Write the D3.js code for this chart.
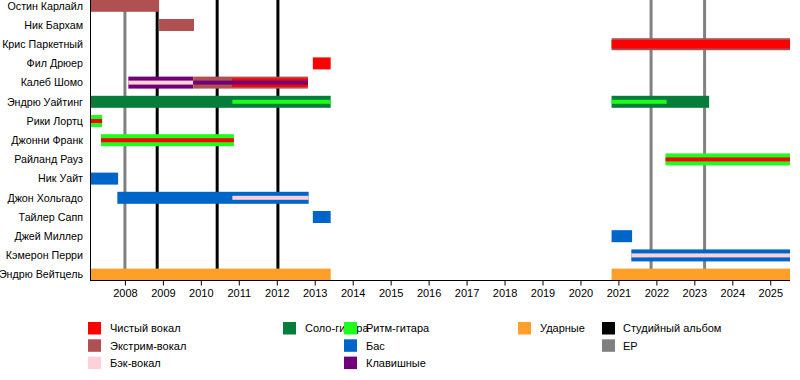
<!DOCTYPE html>
<html>
<head>
<meta charset="utf-8">
<script src="https://cdn.jsdelivr.net/npm/d3@7"></script>
<style>
  body { margin: 0; background: #fff; }
  svg { display: block; font-family: "Liberation Sans", Arial, sans-serif; }
  .axis path, .axis line { stroke: #000; }
</style>
</head>
<body>
<div id="chart"></div>
<script>
// members, top to bottom
var members = ["Остин Карлайл", "Ник Бархам", "Крис Паркетный", "Фил Дрюер", "Калеб Шомо",
    "Эндрю Уайтинг", "Рики Лортц", "Джонни Франк", "Райланд Рауз", "Ник Уайт",
    "Джон Хольгадо", "Тайлер Сапп", "Джей Миллер", "Кэмерон Перри", "Эндрю Вейтцель"];

var roles = ["clean", "extreme", "backing", "lead", "rhythm", "bass", "keys", "drums"];
var roleNames = ["Чистый вокал", "Экстрим-вокал", "Бэк-вокал", "Соло-гитара", "Ритм-гитара", "Бас", "Клавишные", "Ударные"];
var roleColors = ["#ff0000", "#b05052", "#ffd0d8", "#067d3a", "#1cff1c", "#0065c9", "#6e0078", "#fda02a"];

var startDate = 2007.08, endDate = 2025.52;

// [member index, role, from, to, bar kind]
var periods = [
    [0, "extreme", startDate, 2008.9, "full"],
    [1, "extreme", 2008.9, 2009.82, "full"],
    [2, "extreme", 2020.82, endDate, "full"],
    [2, "clean", 2020.82, endDate, "mid"],
    [3, "clean", 2012.95, 2013.42, "full"],
    [4, "keys", 2008.09, 2009.8, "full"],
    [4, "backing", 2008.09, 2009.8, "thin"],
    [4, "extreme", 2009.8, 2012.82, "full"],
    [4, "clean", 2010.82, 2012.82, "mid"],
    [4, "keys", 2009.8, 2012.82, "thin"],
    [5, "lead", startDate, 2013.42, "full"],
    [5, "rhythm", 2010.83, 2013.42, "thin"],
    [5, "lead", 2020.82, 2023.39, "full"],
    [5, "rhythm", 2020.82, 2022.27, "thin"],
    [6, "rhythm", startDate, 2007.4, "full"],
    [6, "clean", startDate, 2007.4, "thin"],
    [7, "rhythm", 2007.37, 2010.87, "full"],
    [7, "clean", 2007.37, 2010.87, "thin"],
    [8, "rhythm", 2022.24, endDate, "full"],
    [8, "clean", 2022.24, endDate, "thin"],
    [9, "bass", startDate, 2007.82, "full"],
    [10, "bass", 2007.8, 2012.84, "full"],
    [10, "backing", 2010.83, 2012.84, "thin"],
    [11, "bass", 2012.95, 2013.42, "full"],
    [12, "bass", 2020.82, 2021.36, "full"],
    [13, "bass", 2021.34, endDate, "full"],
    [13, "backing", 2021.34, endDate, "thin"],
    [14, "drums", startDate, 2013.42, "full"],
    [14, "drums", 2020.82, endDate, "full"]
];

var albums = [2008.85, 2010.43, 2012.03];
var eps = [2008.0, 2021.86, 2023.27];
var years = d3.range(2008, 2026);

var width = 800, height = 380,
    left = 90, right = 790, axisY = 280,
    barH = {full: 12, mid: 8.5, thin: 4};

var svg = d3.select("#chart").append("svg")
    .attr("width", width)
    .attr("height", height);

var x = d3.scaleLinear().domain([startDate, endDate]).range([left, right]);
var y = d3.scalePoint().domain(d3.range(members.length)).range([5.8, 274.6]);
var colour = d3.scaleOrdinal().domain(roles).range(roleColors);

// release lines, behind the bars
svg.append("g").selectAll("line")
    .data(eps.map(function(d) { return {t: d, c: "#808080"}; })
        .concat(albums.map(function(d) { return {t: d, c: "#000"}; })))
    .enter().append("line")
    .attr("x1", function(d) { return x(d.t); })
    .attr("x2", function(d) { return x(d.t); })
    .attr("y1", 0)
    .attr("y2", axisY)
    .attr("stroke", function(d) { return d.c; })
    .attr("stroke-width", 3);

svg.append("g").selectAll("rect")
    .data(periods)
    .enter().append("rect")
    .attr("x", function(d) { return x(d[2]); })
    .attr("width", function(d) { return x(d[3]) - x(d[2]); })
    .attr("y", function(d) { return y(d[0]) - barH[d[4]] / 2; })
    .attr("height", function(d) { return barH[d[4]]; })
    .attr("fill", function(d) { return colour(d[1]); });

// names
svg.append("g").selectAll("text")
    .data(members)
    .enter().append("text")
    .attr("x", 83)
    .attr("y", function(d, i) { return y(i); })
    .attr("dy", "0.35em")
    .attr("text-anchor", "end")
    .style("font-size", "10.7px")
    .text(function(d) { return d; });

// axes
svg.append("line")
    .attr("x1", left + 0.5).attr("x2", left + 0.5)
    .attr("y1", 0).attr("y2", axisY)
    .attr("stroke", "#000");

svg.append("g")
    .attr("class", "axis")
    .attr("transform", "translate(0," + (axisY + 0.5) + ")")
    .call(d3.axisBottom(x).tickValues(years).tickFormat(d3.format("d")).tickSize(5).tickSizeOuter(0))
    .call(function(g) { g.selectAll("text").style("font-size", "11px").attr("fill", "#000").attr("y", 9); })
    .call(function(g) { g.select(".domain").attr("d", "M" + left + ",0H" + right); });

// legend
var legend = [
    {name: roleNames[0], c: roleColors[0], x: 88, tx: 110, row: 0},
    {name: roleNames[1], c: roleColors[1], x: 88, tx: 110, row: 1},
    {name: roleNames[2], c: roleColors[2], x: 88, tx: 110, row: 2},
    {name: roleNames[3], c: roleColors[3], x: 283, tx: 305, row: 0},
    {name: roleNames[4], c: roleColors[4], x: 344, tx: 366, row: 0},
    {name: roleNames[5], c: roleColors[5], x: 344, tx: 366, row: 1},
    {name: roleNames[6], c: roleColors[6], x: 344, tx: 366, row: 2},
    {name: roleNames[7], c: roleColors[7], x: 518, tx: 540, row: 0},
    {name: "Студийный альбом", c: "#000", x: 602, tx: 623, row: 0},
    {name: "EP", c: "#808080", x: 602, tx: 623, row: 1}
];

var lg = svg.append("g").selectAll("g")
    .data(legend)
    .enter().append("g")
    .attr("transform", function(d) { return "translate(0," + (322 + d.row * 17.3) + ")"; });

lg.append("rect")
    .attr("x", function(d) { return d.x; })
    .attr("width", 13)
    .attr("height", 12.5)
    .attr("fill", function(d) { return d.c; });

lg.append("text")
    .attr("x", function(d) { return d.tx; })
    .attr("y", 6.5)
    .attr("dy", "0.35em")
    .style("font-size", "11px")
    .text(function(d) { return d.name; });
</script>
</body>
</html>
